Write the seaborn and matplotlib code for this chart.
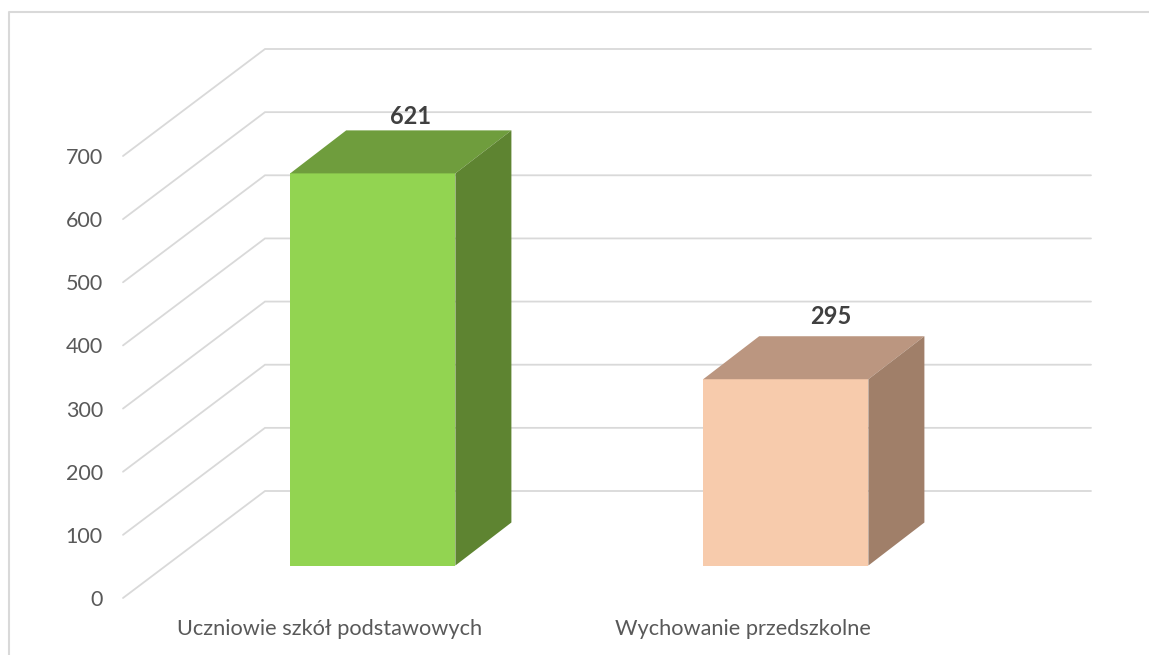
import matplotlib
matplotlib.use('Agg')
import matplotlib.pyplot as plt
import seaborn as sns
from matplotlib.lines import Line2D
from matplotlib.patches import Polygon

categories = ['Uczniowie szkół podstawowych', 'Wychowanie przedszkolne']
values = [621, 295]
y_ticks = [0, 100, 200, 300, 400, 500, 600, 700]

front_colors = ['#92D451', '#F7CBAC']
top_colors = ['#6F9D3D', '#BB9680']
side_colors = ['#5E8431', '#A07F69']
grid_color = '#D9D9D9'

W, H = 1149, 655
px_per_cat = 413.0
px_per_val = 442.0 / 700

sns.set_theme(style='white')
plt.rcParams['font.family'] = ['Lato', 'DejaVu Sans']

fig = plt.figure(figsize=(W / 100, H / 100), dpi=100)


def axes_at(left, bottom_y):
    # left edge and y=0 line given in image pixels
    return fig.add_axes([left / W, (H - bottom_y) / H, 2 * px_per_cat / W, 700 * px_per_val / H])


# wall with axis labels and gridlines
ax = axes_at(123, 598)
ax.set_xlim(-0.5, 1.5)
ax.set_ylim(0, 700)
ax.set_xticks([0, 1])
ax.set_xticklabels(categories, fontsize=15.7, color='#595959')
ax.set_yticks(y_ticks)
ax.set_yticklabels(y_ticks, fontsize=15.5, color='#595959')
ax.tick_params(length=0)
ax.tick_params(axis='y', pad=14.5)
ax.tick_params(axis='x', pad=15)
sns.despine(ax=ax, left=True, bottom=True)
ax.patch.set_visible(False)

floor_dx = 142 / px_per_cat
floor_dy = 107 / px_per_val
for v in y_ticks:
    ax.plot([-0.5, -0.5 + floor_dx, 1.5 + floor_dx], [v, v + floor_dy, v + floor_dy],
            color=grid_color, lw=1.3, clip_on=False, solid_joinstyle='miter')

# bars sit further back on the floor
ax_bar = axes_at(166.3, 565.5)
sns.barplot(x=categories, y=values, hue=categories, palette=front_colors, saturation=1,
            width=0.4, legend=False, linewidth=0, edgecolor='none', ax=ax_bar)
ax_bar.set_xlim(-0.5, 1.5)
ax_bar.set_ylim(0, 700)
ax_bar.axis('off')

bar_dx = 56 / px_per_cat
bar_dy = 43 / px_per_val
label_shift = [10, 17]
label_gap = [14, 20]
for i, bar in enumerate(ax_bar.patches[:len(values)]):
    x0 = bar.get_x()
    x1 = x0 + bar.get_width()
    h = bar.get_height()
    ax_bar.add_patch(Polygon([(x0, h), (x0 + bar_dx, h + bar_dy), (x1 + bar_dx, h + bar_dy), (x1, h)],
                             facecolor=top_colors[i], edgecolor='none', clip_on=False))
    ax_bar.add_patch(Polygon([(x1, 0), (x1 + bar_dx, bar_dy), (x1 + bar_dx, h + bar_dy), (x1, h)],
                             facecolor=side_colors[i], edgecolor='none', clip_on=False))
    ax_bar.annotate(str(values[i]), ((x0 + x1 + bar_dx) / 2, h + bar_dy),
                    xytext=(label_shift[i] * 0.72, label_gap[i] * 0.72), textcoords='offset points',
                    ha='center', va='center', fontsize=17, fontweight='bold', color='#404040',
                    annotation_clip=False)

# chart frame, only top and left are inside the crop
fig.add_artist(Line2D([9 / W, 9 / W, 1], [0, 1 - 12 / H, 1 - 12 / H], color=grid_color, lw=1.5))

fig.savefig('out.png', dpi=100)
